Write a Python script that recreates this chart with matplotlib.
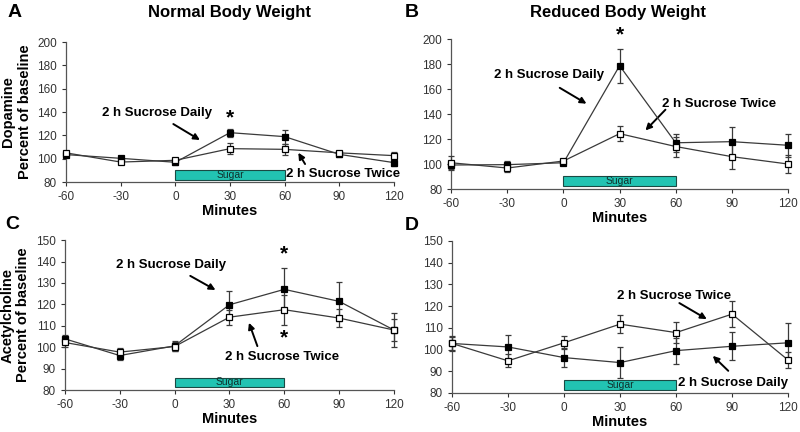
import matplotlib
matplotlib.use("Agg")
import matplotlib.pyplot as plt
from matplotlib.patches import Rectangle

plt.rcParams['font.family'] = ['Liberation Sans', 'DejaVu Sans']

minutes = [-60, -30, 0, 30, 60, 90, 120]

# Panel A: Dopamine, normal body weight
a_daily = [103.5, 100.3, 96.9, 122.3, 118.9, 103.7, 96.6]
a_daily_err = [2, 2, 2, 3.5, 6, 2, 3]
a_twice = [105, 97.1, 98.6, 108.6, 108, 105, 102.6]
a_twice_err = [2, 2, 2, 5, 5, 2, 3]

# Panel B: Dopamine, reduced body weight
b_daily = [99.2, 99.5, 101, 178.7, 117, 117.9, 115]
b_daily_err = [3, 3, 2, 13.6, 7, 12, 9]
b_twice = [101, 96.8, 102.4, 124.3, 114, 105.9, 100]
b_twice_err = [5.5, 3, 2, 6, 8, 10, 7]

# Panel C: Acetylcholine, normal body weight
c_daily = [103.9, 96.1, 100.6, 119.8, 127, 121.4, 108]
c_daily_err = [2, 2, 2.5, 6.5, 10, 9, 8]
c_twice = [102.2, 97.7, 100.3, 114, 117.5, 113.6, 108]
c_twice_err = [2, 2, 2, 3.5, 7, 4, 5]

# Panel D: Acetylcholine, reduced body weight
d_daily = [102.8, 101.2, 96.3, 94, 99.5, 101.5, 103.1]
d_daily_err = [3, 5.5, 4.5, 7, 6, 6.5, 9]
d_twice = [102.8, 94.8, 103.1, 111.7, 107.8, 116.3, 95.2]
d_twice_err = [3.5, 3, 3, 4, 5, 6, 3.5]

x_ticks = [-60, -30, 0, 30, 60, 90, 120]
da_ticks = [80, 100, 120, 140, 160, 180, 200]
ach_ticks = [80, 90, 100, 110, 120, 130, 140, 150]

fig = plt.figure(figsize=(8, 4.32), dpi=100)

positions = {
    'A': [0.0825, 0.5787, 0.41, 0.324],
    'B': [0.564, 0.5625, 0.421, 0.347],
    'C': [0.081, 0.0972, 0.4115, 0.347],
    'D': [0.565, 0.0903, 0.42, 0.352],
}

line_col = '#3a3a3a'
teal = '#22c3b2'


def draw_panel(pos, daily, daily_err, twice, twice_err, yticks, sugar):
    ax = fig.add_axes(pos)
    for y, e, face in [(daily, daily_err, 'black'), (twice, twice_err, 'white')]:
        ax.errorbar(minutes, y, yerr=e, color=line_col, lw=0.9, elinewidth=0.9,
                    capsize=2.5, capthick=0.9, marker='s', ms=5,
                    mfc=face, mec='black', mew=0.9, clip_on=False, zorder=3)
    ax.set_xlim(-60, 120)
    ax.set_ylim(yticks[0], yticks[-1])
    ax.set_xticks(x_ticks)
    ax.set_yticks(yticks)
    ax.set_xticklabels([str(t) for t in x_ticks])
    ax.tick_params(labelsize=8.5, length=3, width=0.8, colors='#333333', direction='out')
    for s in ['top', 'right']:
        ax.spines[s].set_visible(False)
    for s in ['left', 'bottom']:
        ax.spines[s].set_color('#555555')
        ax.spines[s].set_linewidth(0.9)
    r = Rectangle((0, sugar[0]), 60, sugar[1] - sugar[0], facecolor=teal,
                  edgecolor='#1a4a44', lw=0.8, zorder=2, clip_on=False)
    ax.add_patch(r)
    ax.text(30, (sugar[0] + sugar[1]) / 2, 'Sugar', ha='center', va='center',
            fontsize=7.5, color='#0f2f2c', zorder=4)
    ax.set_xlabel('Minutes', fontsize=10.5, fontweight='bold', labelpad=1)
    return ax


def label(ax, text, xy, arrow_from, arrow_to):
    ax.text(xy[0], xy[1], text, ha='center', va='center', fontsize=9.5,
            fontweight='bold', clip_on=False, zorder=5)
    ax.annotate('', xy=arrow_to, xytext=arrow_from, annotation_clip=False,
                arrowprops=dict(arrowstyle='-|>', color='black', lw=1.4,
                                mutation_scale=9, shrinkA=0, shrinkB=0))


def star(ax, x, y):
    ax.text(x, y, '*', ha='center', va='center', fontsize=15, fontweight='bold',
            clip_on=False)


axA = draw_panel(positions['A'], a_daily, a_daily_err, a_twice, a_twice_err, da_ticks, (81.5, 90.3))
axA.set_ylabel('Dopamine\nPercent of baseline', fontsize=10.5, fontweight='bold', labelpad=4)
label(axA, '2 h Sucrose Daily', (-9.9, 138.9), (-1.1, 129.7), (13.5, 116))
label(axA, '2 h Sucrose Twice', (91.8, 86.9), (71.2, 95.4), (67.5, 105.1))
star(axA, 30, 135)

axB = draw_panel(positions['B'], b_daily, b_daily_err, b_twice, b_twice_err, da_ticks, (82.7, 90.1))
label(axB, '2 h Sucrose Daily', (-7.8, 170.9), (-2, 161), (12.3, 148.3))
label(axB, '2 h Sucrose Twice', (83.3, 148.3), (54.5, 143.5), (43.8, 126.9))
star(axB, 30, 203)

axC = draw_panel(positions['C'], c_daily, c_daily_err, c_twice, c_twice_err, ach_ticks, (81.3, 85.8))
axC.set_ylabel('Acetylcholine\nPercent of baseline', fontsize=10.5, fontweight='bold', labelpad=4)
label(axC, '2 h Sucrose Daily', (-2, 138.4), (8.6, 133.3), (22.4, 126.7))
label(axC, '2 h Sucrose Twice', (58.9, 95.5), (45.3, 100.5), (40.7, 111.4))
star(axC, 60, 143.5)
star(axC, 60, 104.5)

axD = draw_panel(positions['D'], d_daily, d_daily_err, d_twice, d_twice_err, ach_ticks, (81.5, 86))
label(axD, '2 h Sucrose Twice', (59, 124.8), (61.8, 121.4), (76.5, 114))
label(axD, '2 h Sucrose Daily', (90.8, 84.8), (88, 90.2), (79.7, 97.1))

fig.text(0.287, 0.972, 'Normal Body Weight', ha='center', va='center', fontsize=12, fontweight='bold')
fig.text(0.772, 0.97, 'Reduced Body Weight', ha='center', va='center', fontsize=12, fontweight='bold')
for t, x, y in [('A', 0.01, 0.972), ('B', 0.506, 0.972), ('C', 0.006, 0.48), ('D', 0.506, 0.477)]:
    fig.text(x, y, t, ha='left', va='center', fontsize=14, fontweight='bold')

fig.savefig('out.png', dpi=100, facecolor='white')
